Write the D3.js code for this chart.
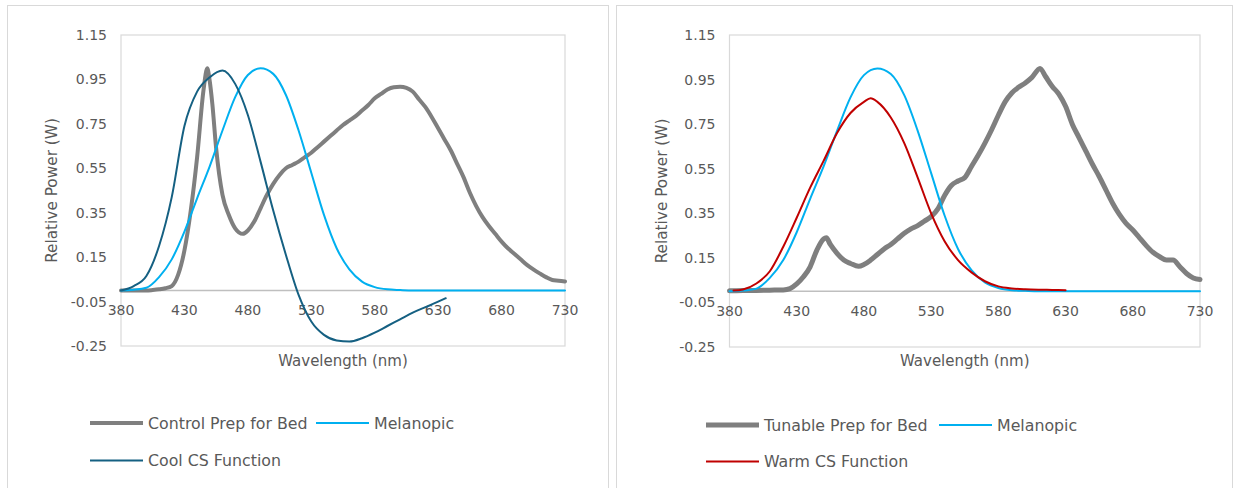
<!DOCTYPE html>
<html>
<head>
<meta charset="utf-8">
<script src="https://cdn.jsdelivr.net/npm/d3@7"></script>
<style>
  body { margin: 0; background: #fff; }
  svg { display: block; }
  text { font-family: "DejaVu Sans", sans-serif; fill: #595959; }
</style>
</head>
<body>
<svg id="chart" width="1239" height="488"></svg>
<script>
// Axis ticks (both charts share them)
const xTicks = [380, 430, 480, 530, 580, 630, 680, 730];
const yTicks = [1.15, 0.95, 0.75, 0.55, 0.35, 0.15, -0.05, -0.25];

// [wavelength nm, relative power]
const melanopic = [
  [380, 0], [390, 0.003], [400, 0.012], [410, 0.06], [420, 0.14], [430, 0.265],
  [440, 0.415], [450, 0.56], [460, 0.72], [470, 0.87], [480, 0.97], [490, 1.0],
  [500, 0.975], [510, 0.88], [520, 0.72], [530, 0.53], [540, 0.34], [550, 0.19],
  [560, 0.095], [570, 0.04], [580, 0.015], [590, 0.005], [600, 0.002], [610, 0],
  [650, 0], [700, 0], [730, 0]
];

const controlPrep = [
  [380, 0], [390, 0], [400, 0], [405, 0.002], [410, 0.005], [415, 0.01], [420, 0.02],
  [425, 0.07], [430, 0.18], [435, 0.36], [440, 0.6], [445, 0.9], [448, 1.0], [450, 0.94],
  [452, 0.84], [455, 0.64], [460, 0.43], [465, 0.34], [470, 0.28], [476, 0.255], [480, 0.27],
  [485, 0.31], [490, 0.37], [495, 0.43], [500, 0.48], [505, 0.52], [510, 0.55], [515, 0.565],
  [520, 0.58], [525, 0.6], [530, 0.62], [535, 0.645], [540, 0.67], [545, 0.695], [550, 0.72],
  [555, 0.745], [560, 0.765], [565, 0.785], [570, 0.81], [575, 0.835], [580, 0.865],
  [585, 0.885], [590, 0.905], [595, 0.915], [600, 0.917], [605, 0.912], [610, 0.895],
  [615, 0.86], [620, 0.825], [625, 0.78], [630, 0.73], [635, 0.68], [640, 0.63], [645, 0.57],
  [650, 0.51], [655, 0.44], [660, 0.38], [665, 0.33], [670, 0.29], [675, 0.255], [680, 0.22],
  [685, 0.19], [690, 0.165], [695, 0.14], [700, 0.115], [705, 0.095], [710, 0.077],
  [715, 0.06], [720, 0.047], [725, 0.044], [730, 0.04]
];

const coolCS = [
  [380, 0], [390, 0.02], [400, 0.065], [410, 0.2], [420, 0.42], [430, 0.74], [440, 0.895],
  [450, 0.96], [460, 0.99], [470, 0.93], [480, 0.79], [490, 0.58], [500, 0.36], [510, 0.16],
  [520, -0.02], [530, -0.14], [540, -0.2], [550, -0.225], [560, -0.23], [570, -0.215],
  [580, -0.19], [590, -0.16], [600, -0.13], [610, -0.1], [620, -0.075], [630, -0.05],
  [636, -0.035]
];

const tunablePrep = [
  [380, 0.002], [390, 0.003], [400, 0.004], [410, 0.005], [420, 0.006], [425, 0.012],
  [430, 0.033], [435, 0.065], [440, 0.11], [445, 0.185], [450, 0.235], [452, 0.24],
  [455, 0.21], [460, 0.17], [465, 0.14], [470, 0.125], [476, 0.112], [480, 0.12], [485, 0.14],
  [490, 0.165], [495, 0.19], [500, 0.21], [505, 0.235], [510, 0.26], [515, 0.28], [520, 0.295],
  [525, 0.315], [530, 0.335], [535, 0.37], [540, 0.43], [545, 0.475], [550, 0.495],
  [555, 0.51], [560, 0.56], [565, 0.61], [570, 0.665], [575, 0.725], [580, 0.79], [585, 0.85],
  [590, 0.89], [595, 0.915], [600, 0.935], [605, 0.96], [611, 1.0], [615, 0.965], [620, 0.92],
  [625, 0.885], [630, 0.83], [635, 0.75], [640, 0.69], [645, 0.63], [650, 0.57], [655, 0.515],
  [660, 0.455], [665, 0.395], [670, 0.345], [675, 0.305], [680, 0.275], [685, 0.24],
  [690, 0.205], [695, 0.175], [700, 0.155], [705, 0.14], [710, 0.14], [715, 0.11],
  [720, 0.08], [725, 0.06], [730, 0.053]
];

const warmCS = [
  [383, 0.003], [390, 0.008], [400, 0.035], [410, 0.09], [420, 0.2], [430, 0.33],
  [440, 0.465], [450, 0.585], [460, 0.71], [470, 0.8], [480, 0.85], [485, 0.866],
  [490, 0.85], [500, 0.78], [510, 0.665], [520, 0.51], [530, 0.35], [540, 0.225],
  [550, 0.14], [560, 0.085], [570, 0.045], [580, 0.022], [590, 0.013], [600, 0.009],
  [610, 0.007], [620, 0.006], [630, 0.005]
];

const panels = [
  {
    frame: { x: 7.5, y: 5.5, w: 601 },
    plot: { left: 121, right: 565, top: 35, bottom: 346 },
    yTitleX: 52,
    series: [
      { name: "Control Prep for Bed", data: controlPrep, color: "#7f7f7f", width: 4 },
      { name: "Melanopic", data: melanopic, color: "#00b0f0", width: 2 },
      { name: "Cool CS Function", data: coolCS, color: "#156082", width: 2 }
    ],
    legend: { x: 90, col2: 316, row1: 423, row2: 460.5 }
  },
  {
    frame: { x: 616.5, y: 5.5, w: 616 },
    plot: { left: 729.5, right: 1200, top: 35, bottom: 347 },
    yTitleX: 662,
    series: [
      { name: "Tunable Prep for Bed", data: tunablePrep, color: "#7f7f7f", width: 5 },
      { name: "Melanopic", data: melanopic, color: "#00b0f0", width: 2 },
      { name: "Warm CS Function", data: warmCS, color: "#c00000", width: 2 }
    ],
    legend: { x: 706, col2: 939, row1: 425, row2: 461.5 }
  }
];

const svg = d3.select("#chart");

function drawPanel(p) {
  const g = svg.append("g");

  // panel frame
  g.append("rect")
    .attr("x", p.frame.x).attr("y", p.frame.y)
    .attr("width", p.frame.w).attr("height", 500)
    .attr("fill", "#fff").attr("stroke", "#d9d9d9").attr("stroke-width", 1);

  const x = d3.scaleLinear().domain([380, 730]).range([p.plot.left, p.plot.right]);
  const y = d3.scaleLinear().domain([-0.25, 1.15]).range([p.plot.bottom, p.plot.top]);

  // plot area border
  g.append("rect")
    .attr("x", p.plot.left).attr("y", p.plot.top)
    .attr("width", p.plot.right - p.plot.left).attr("height", p.plot.bottom - p.plot.top)
    .attr("fill", "none").attr("stroke", "#d9d9d9").attr("stroke-width", 1.2);

  // horizontal axis line crosses at 0
  g.append("line")
    .attr("x1", p.plot.left).attr("x2", p.plot.right)
    .attr("y1", y(0)).attr("y2", y(0))
    .attr("stroke", "#bfbfbf").attr("stroke-width", 1.5);

  // y tick labels
  g.selectAll("text.ytick")
    .data(yTicks)
    .enter()
    .append("text")
    .attr("class", "ytick")
    .attr("x", p.plot.left - 14)
    .attr("y", d => y(d))
    .attr("dy", "0.36em")
    .attr("text-anchor", "end")
    .style("font-size", "14px")
    .text(d => d.toFixed(2));

  // x tick labels, sitting under the zero line
  g.selectAll("text.xtick")
    .data(xTicks)
    .enter()
    .append("text")
    .attr("class", "xtick")
    .attr("x", d => x(d))
    .attr("y", y(0) + 25)
    .attr("text-anchor", "middle")
    .style("font-size", "14px")
    .text(d => d);

  // axis titles
  g.append("text")
    .attr("x", (p.plot.left + p.plot.right) / 2)
    .attr("y", 366)
    .attr("text-anchor", "middle")
    .style("font-size", "15px")
    .text("Wavelength (nm)");

  g.append("text")
    .attr("transform", `translate(${p.yTitleX + 5},${(p.plot.top + p.plot.bottom) / 2}) rotate(-90)`)
    .attr("text-anchor", "middle")
    .style("font-size", "15.3px")
    .text("Relative Power (W)");

  // series
  const line = d3.line()
    .x(d => x(d[0]))
    .y(d => y(d[1]))
    .curve(d3.curveMonotoneX);

  g.selectAll("path.series")
    .data(p.series)
    .enter()
    .append("path")
    .attr("class", "series")
    .attr("d", d => line(d.data))
    .attr("fill", "none")
    .attr("stroke", d => d.color)
    .attr("stroke-width", d => d.width)
    .attr("stroke-linejoin", "round")
    .attr("stroke-linecap", "round");

  // legend
  const pos = [
    [p.legend.x, p.legend.row1],
    [p.legend.col2, p.legend.row1],
    [p.legend.x, p.legend.row2]
  ];
  const items = g.selectAll("g.legend")
    .data(p.series)
    .enter()
    .append("g")
    .attr("class", "legend")
    .attr("transform", (d, i) => `translate(${pos[i][0]},${pos[i][1]})`);

  items.append("line")
    .attr("x1", 0).attr("x2", 53)
    .attr("stroke", d => d.color)
    .attr("stroke-width", d => d.width);

  items.append("text")
    .attr("x", 58)
    .attr("dy", "0.36em")
    .style("font-size", "15.8px")
    .text(d => d.name);
}

panels.forEach(drawPanel);
</script>
</body>
</html>
